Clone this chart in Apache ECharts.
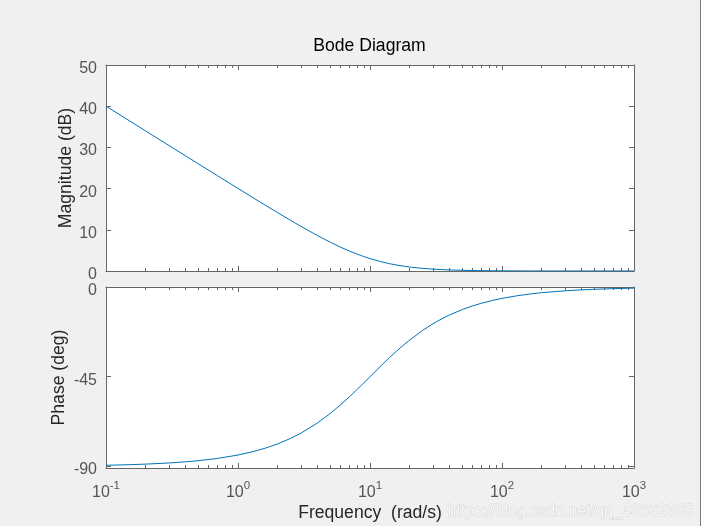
<!DOCTYPE html>
<html>
<head>
<meta charset="utf-8">
<script src="https://cdn.jsdelivr.net/npm/echarts@6/dist/echarts.min.js"></script>
<style>
html,body{margin:0;padding:0;background:#f0f0f0;}
#main{width:701px;height:526px;}
</style>
</head>
<body>
<div id="main"></div>
<script>
const freq = [0.1, 0.15, 0.2, 0.3, 0.4, 0.5, 0.7, 1, 1.3, 1.6, 2, 2.5, 3, 4, 5, 6, 7, 8, 9, 10, 12, 14, 16, 18, 20, 25, 30, 35, 40, 50, 60, 70, 85, 100, 130, 160, 200, 300, 400, 500, 700, 1000];
const magnitudeDb = [40.00, 36.48, 33.98, 30.46, 27.97, 26.03, 23.12, 20.04, 17.79, 16.03, 14.15, 12.30, 10.83, 8.60, 6.99, 5.77, 4.83, 4.09, 3.49, 3.01, 2.29, 1.79, 1.43, 1.17, 0.97, 0.64, 0.46, 0.34, 0.26, 0.17, 0.12, 0.088, 0.060, 0.043, 0.026, 0.017, 0.011, 0.0048, 0.0027, 0.0017, 0.0009, 0.0004];
const phaseDeg = [-89.43, -89.14, -88.85, -88.28, -87.71, -87.14, -86.00, -84.29, -82.59, -80.91, -78.69, -75.96, -73.30, -68.20, -63.43, -59.04, -55.01, -51.34, -48.01, -45.00, -39.81, -35.54, -32.01, -29.05, -26.57, -21.80, -18.43, -15.95, -14.04, -11.31, -9.46, -8.13, -6.71, -5.71, -4.40, -3.58, -2.86, -1.91, -1.43, -1.15, -0.82, -0.57];
const majorFreqTicks = [0.1, 1, 10, 100, 1000];
const minorFreqTicks = [0.2, 0.3, 0.4, 0.5, 0.6, 0.7, 0.8, 0.9, 2, 3, 4, 5, 6, 7, 8, 9, 20, 30, 40, 50, 60, 70, 80, 90, 200, 300, 400, 500, 600, 700, 800, 900];
const magTicks = [0, 10, 20, 30, 40, 50];
const phaseTicks = [-90, -45, 0];

const AXIS = '#666666';
const LABEL = '#555555';
const FONT = '"Liberation Sans", Arial, sans-serif';
const TICKFS = 16;
const NAMEFS = 17.6;

function xAx(grid, pos, ticks, len, showLine, showLabel, extra) {
  const a = {
    type: 'log', logBase: 10, gridIndex: grid, position: pos,
    min: 0.1, max: 1000,
    axisLine: {show: showLine, onZero: false, lineStyle: {color: AXIS, width: 1}},
    axisTick: {show: true, inside: true, length: len, customValues: ticks, lineStyle: {color: AXIS}},
    axisLabel: {show: false},
    splitLine: {show: false}, minorTick: {show: false}, minorSplitLine: {show: false}
  };
  if (showLabel) {
    a.axisLabel = {
      show: true, customValues: majorFreqTicks, margin: 12, fontFamily: FONT,
      formatter: function (v) { return '{b|10}{s|' + Math.round(Math.log10(v)) + '}'; },
      rich: {
        b: {fontSize: TICKFS, color: LABEL, fontFamily: FONT, verticalAlign: 'bottom', lineHeight: 21},
        s: {fontSize: 11.5, color: LABEL, fontFamily: FONT, verticalAlign: 'top', lineHeight: 12}
      }
    };
  }
  return Object.assign(a, extra || {});
}

function yAx(grid, pos, min, max, ticks, showLabel, extra) {
  const a = {
    type: 'value', gridIndex: grid, position: pos, min: min, max: max,
    axisLine: {show: true, onZero: false, lineStyle: {color: AXIS, width: 1}},
    axisTick: {show: true, inside: true, length: 5, customValues: ticks, lineStyle: {color: AXIS}},
    axisLabel: {show: showLabel, customValues: ticks, margin: 9, fontSize: TICKFS, color: LABEL, fontFamily: FONT,
      verticalAlign: 'top', lineHeight: 7},
    splitLine: {show: false}
  };
  return Object.assign(a, extra || {});
}

const chart = echarts.init(document.getElementById('main'), null, {renderer: 'canvas'});
chart.setOption({
  backgroundColor: '#f0f0f0',
  animation: false,
  title: {
    text: 'Bode Diagram', left: 364.5, top: 32, textAlign: 'center',
    textStyle: {fontSize: NAMEFS, fontWeight: 'normal', color: '#000', fontFamily: FONT}
  },
  grid: [
    {left: 106, top: 65, width: 528, height: 206, backgroundColor: '#fff', show: true, borderWidth: 0},
    {left: 106, top: 287, width: 528, height: 181, backgroundColor: '#fff', show: true, borderWidth: 0}
  ],
  xAxis: [
    xAx(0, 'bottom', majorFreqTicks, 5, true, false),
    xAx(0, 'bottom', minorFreqTicks, 3, false, false),
    xAx(0, 'top', majorFreqTicks, 5, true, false),
    xAx(0, 'top', minorFreqTicks, 3, false, false),
    xAx(1, 'bottom', majorFreqTicks, 5, true, true, {
      name: 'Frequency  (rad/s)', nameLocation: 'middle', nameGap: 36, nameMoveOverlap: false,
      nameTextStyle: {fontSize: NAMEFS, color: '#262626', fontFamily: FONT}
    }),
    xAx(1, 'bottom', minorFreqTicks, 3, false, false),
    xAx(1, 'top', majorFreqTicks, 5, true, false),
    xAx(1, 'top', minorFreqTicks, 3, false, false)
  ],
  yAxis: [
    yAx(0, 'left', 0, 50, magTicks, true, {
      name: 'Magnitude (dB)', nameLocation: 'middle', nameGap: 31, nameMoveOverlap: false,
      nameTextStyle: {fontSize: NAMEFS, color: '#262626', fontFamily: FONT}
    }),
    yAx(0, 'right', 0, 50, magTicks, false),
    yAx(1, 'left', -90.8, 0, phaseTicks, true, {
      name: 'Phase (deg)', nameLocation: 'middle', nameGap: 38, nameMoveOverlap: false,
      nameTextStyle: {fontSize: NAMEFS, color: '#262626', fontFamily: FONT}
    }),
    yAx(1, 'right', -90.8, 0, phaseTicks, false)
  ],
  series: [
    {
      type: 'line', xAxisIndex: 0, yAxisIndex: 0, showSymbol: false, symbol: 'none',
      lineStyle: {color: '#0072BD', width: 1}, smooth: false,
      data: freq.map((f, i) => [f, magnitudeDb[i]])
    },
    {
      type: 'line', xAxisIndex: 4, yAxisIndex: 2, showSymbol: false, symbol: 'none',
      lineStyle: {color: '#0072BD', width: 1}, smooth: false,
      data: freq.map((f, i) => [f, phaseDeg[i]])
    }
  ],
  graphic: [
    {type: 'line', shape: {x1: 700.5, y1: 0, x2: 700.5, y2: 526}, style: {stroke: '#7a7a7a', lineWidth: 1}, silent: true},
    {type: 'text', left: 447, top: 503, style: {
      text: 'https://blog.csdn.net/qq_43662385', fontSize: 16, fontFamily: FONT,
      fill: 'rgba(255,255,255,0.75)', stroke: 'rgba(150,150,150,0.28)', lineWidth: 1
    }, silent: true}
  ]
});
</script>
</body>
</html>
